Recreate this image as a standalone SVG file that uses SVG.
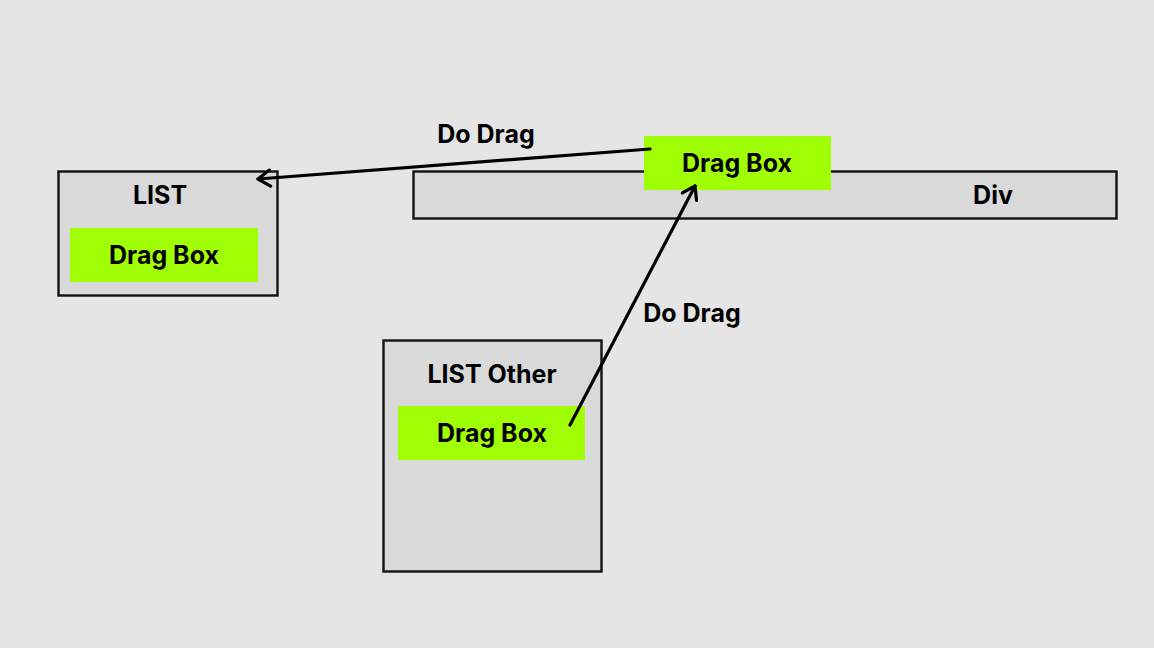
<svg xmlns="http://www.w3.org/2000/svg" width="1154" height="648" viewBox="0 0 1154 648">
<style>
.box{fill:#d9d9d9;stroke:#111;stroke-width:2.4}
.drag{fill:#a0ff05}
.t{font-family:Inter,"Liberation Sans",sans-serif;font-weight:700;font-size:25px;fill:#000;text-anchor:middle;dominant-baseline:central}
.c{fill:none;stroke:#000;stroke-width:3.2;stroke-linecap:round}
</style>
<defs>
<marker id="arr" viewBox="0 0 20 20" refX="16" refY="10" markerWidth="20" markerHeight="20" markerUnits="userSpaceOnUse" orient="auto">
<path d="M4 2 L16 10 L4 18" fill="none" stroke="#000" stroke-width="3.2" stroke-linecap="round" stroke-linejoin="round"/>
</marker>
</defs>
<rect width="1154" height="648" fill="#e5e5e5"/>
<g id="list">
<rect class="box" x="58.5" y="171.5" width="219" height="124"/>
<text class="t" x="160" y="195">LIST</text>
</g>
<g id="list-drag">
<rect class="drag" x="70" y="228" width="188" height="54"/>
<text class="t" x="164" y="255">Drag Box</text>
</g>
<g id="div">
<rect class="box" x="413.5" y="171.5" width="703" height="47"/>
<text class="t" x="993" y="195">Div</text>
</g>
<g id="top-drag">
<rect class="drag" x="644" y="136" width="187" height="54"/>
<text class="t" x="737" y="163">Drag Box</text>
</g>
<g id="list-other">
<rect class="box" x="383.5" y="340.5" width="218" height="231"/>
<text class="t" x="492" y="374">LIST Other</text>
</g>
<g id="other-drag">
<rect class="drag" x="398" y="406" width="187" height="54"/>
<text class="t" x="492" y="433">Drag Box</text>
</g>
<g id="connectors">
<line class="c" x1="650" y1="149" x2="258" y2="179" marker-end="url(#arr)"/>
<line class="c" x1="570" y1="425" x2="695" y2="186" marker-end="url(#arr)"/>
</g>
<g id="labels">
<text class="t" x="486" y="134">Do Drag</text>
<text class="t" x="692" y="313">Do Drag</text>
</g>
</svg>
